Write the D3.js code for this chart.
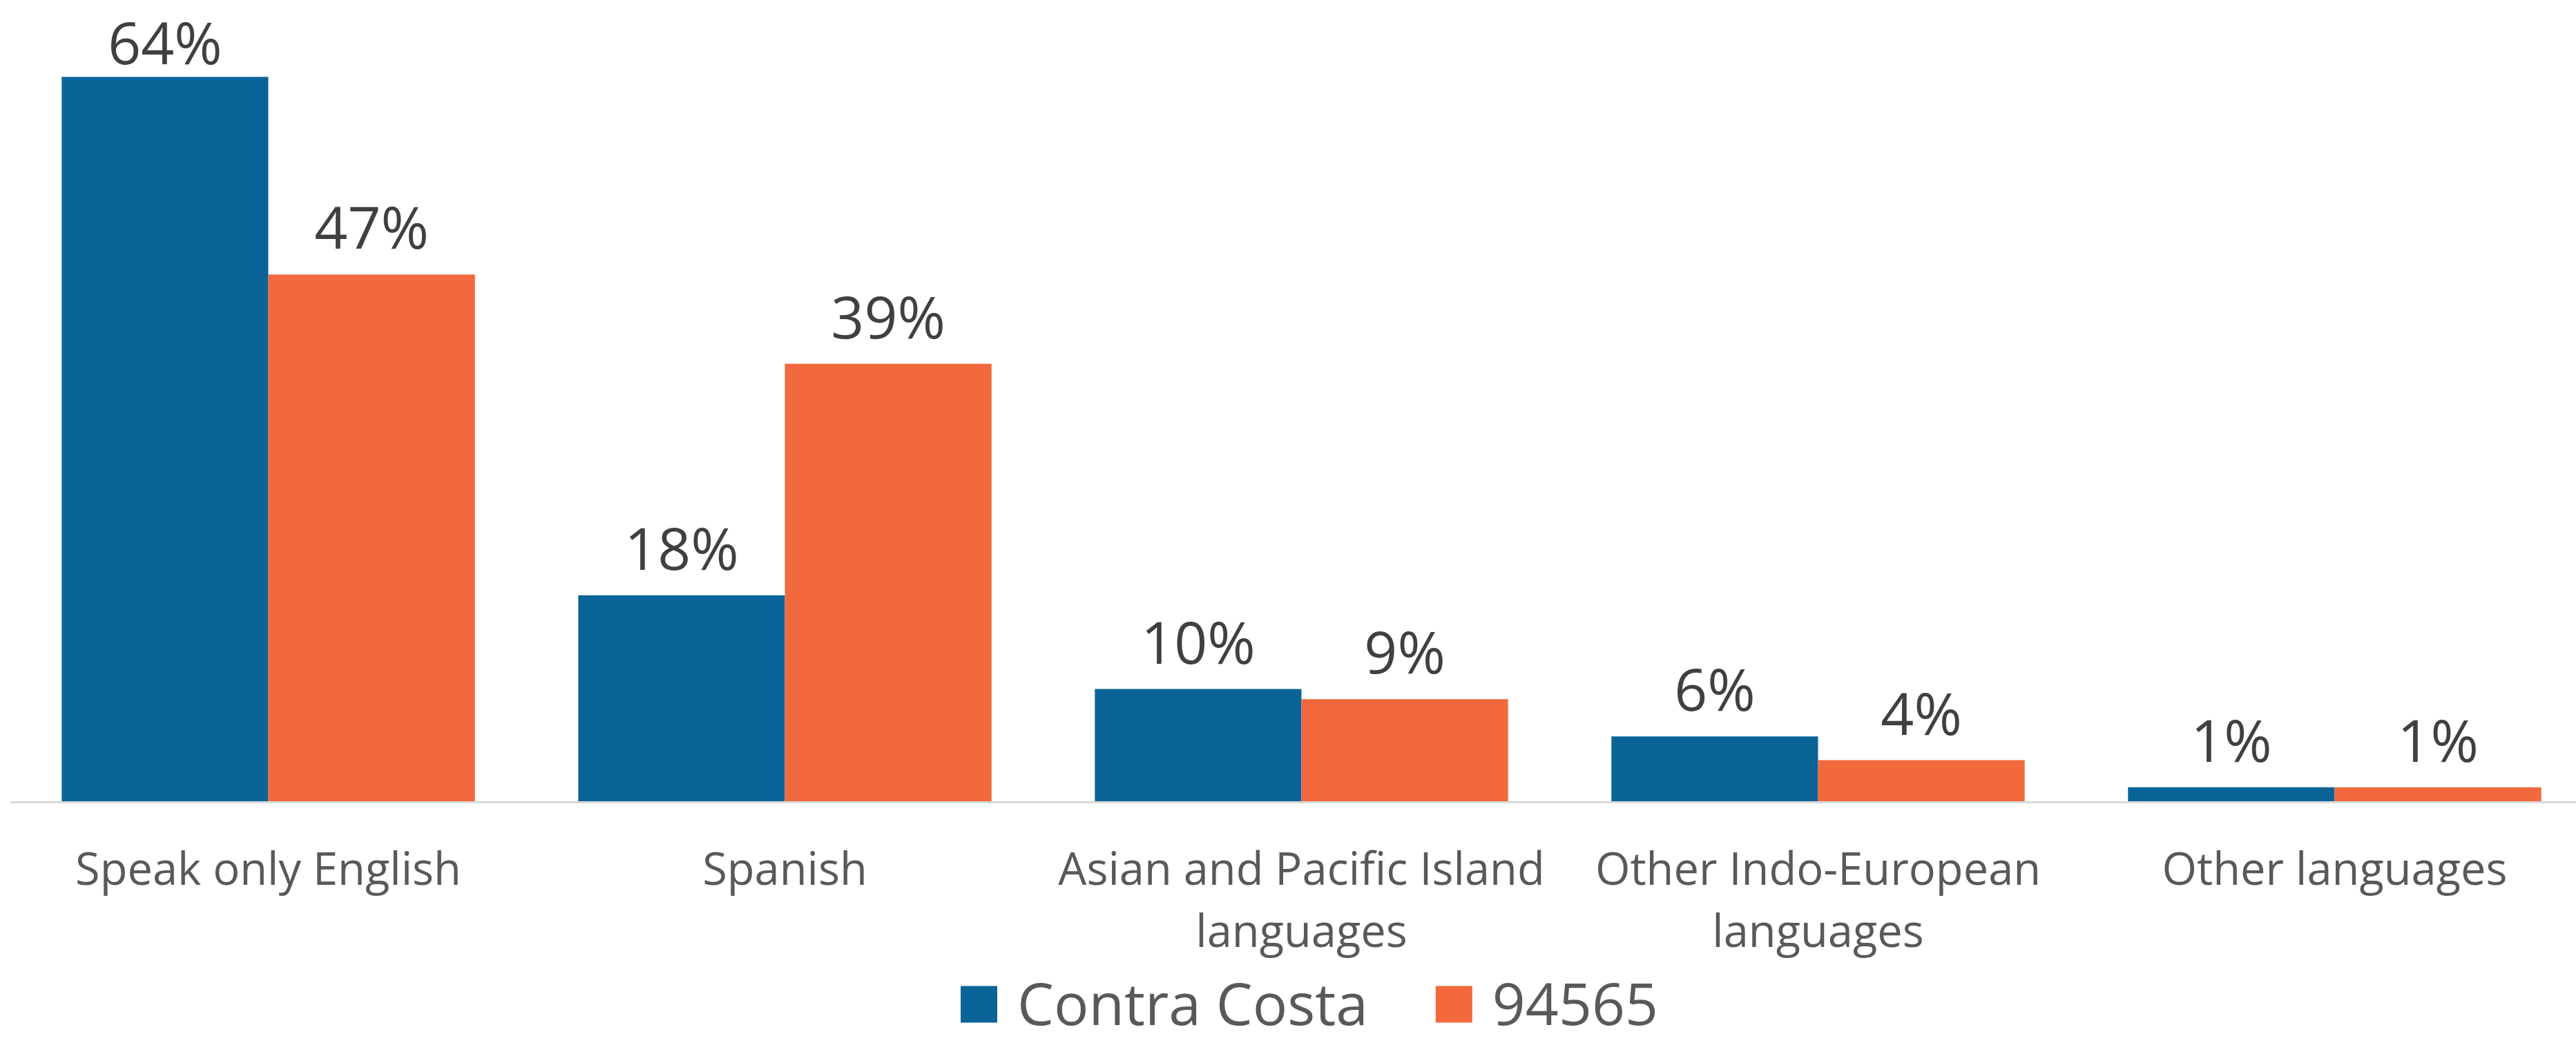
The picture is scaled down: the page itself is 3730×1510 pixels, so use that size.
<!DOCTYPE html>
<html>
<head>
<meta charset="utf-8">
<script src="https://cdn.jsdelivr.net/npm/d3@7"></script>
<style>
  html, body { margin: 0; padding: 0; background: #ffffff; }
  svg { display: block; }
</style>
</head>
<body>
<svg id="chart" width="3730" height="1510"></svg>
<script>
// ---- data ----
const categories = [
  "Speak only English",
  "Spanish",
  "Asian and Pacific Island languages",
  "Other Indo-European languages",
  "Other languages"
];
const seriesNames = ["Contra Costa", "94565"];
const contraCosta = [0.642, 0.183, 0.100, 0.058, 0.013];
const zip94565   = [0.467, 0.388, 0.091, 0.037, 0.013];
const seriesColors = ["#0b6498", "#f2693d"];

// ---- layout ----
const W = 3730, H = 1510;
const baseY = 1161;
const svg = d3.select("#chart");
const FONT = "'Open Sans', 'Noto Sans', sans-serif";

const x = d3.scaleBand()
  .domain(categories)
  .range([14.5, 3754.5])
  .paddingInner(0.2)
  .paddingOuter(0.1);

const xs = d3.scaleBand()
  .domain(seriesNames)
  .range([0, x.bandwidth()])
  .padding(0);

const y = d3.scaleLinear()
  .domain([0, 0.70])
  .range([baseY, baseY - 16.35 * 70]);

const fmt = d3.format(".0%");

const rows = categories.map((c, i) => ({
  cat: c,
  vals: [
    { name: seriesNames[0], v: contraCosta[i], color: seriesColors[0] },
    { name: seriesNames[1], v: zip94565[i], color: seriesColors[1] }
  ]
}));

// bars
const groups = svg.append("g").selectAll("g")
  .data(rows).join("g")
  .attr("transform", d => `translate(${x(d.cat)},0)`);

groups.selectAll("rect")
  .data(d => d.vals).join("rect")
  .attr("x", d => xs(d.name))
  .attr("width", xs.bandwidth())
  .attr("y", d => y(d.v))
  .attr("height", d => baseY - y(d.v))
  .attr("fill", d => d.color);

// x axis (baseline + category labels)
const axis = svg.append("g")
  .attr("transform", `translate(0,${baseY})`)
  .call(d3.axisBottom(x).tickSize(0).tickPadding(0));
axis.select(".domain").attr("stroke", "#d9d9d9").attr("stroke-width", 3);
axis.selectAll(".tick text").remove();

const lineH = 90;
axis.selectAll(".tick").each(function(d) {
  const t = d3.select(this).append("text")
    .attr("text-anchor", "middle")
    .attr("font-family", FONT)
    .attr("font-size", 65)
    .attr("fill", "#595959");
  // greedy word wrap to the category width
  const words = d.split(" ");
  const maxW = 790;
  let lines = [], cur = [];
  const probe = t.append("tspan");
  words.forEach(w => {
    const test = cur.concat([w]).join(" ");
    probe.text(test);
    if (probe.node().getComputedTextLength() > maxW && cur.length) {
      lines.push(cur.join(" "));
      cur = [w];
    } else cur.push(w);
  });
  lines.push(cur.join(" "));
  probe.remove();
  lines.forEach((ln, i) => {
    t.append("tspan").attr("x", 0).attr("y", 120 + i * lineH).text(ln);
  });
});

// data labels (kept inside the chart area at the top)
groups.selectAll("text.lbl")
  .data(d => d.vals).join("text")
  .attr("class", "lbl")
  .attr("x", d => xs(d.name) + xs.bandwidth() / 2)
  .attr("y", d => Math.max(y(d.v) - 37, 93))
  .attr("text-anchor", "middle")
  .attr("font-family", FONT)
  .attr("font-size", 84)
  .attr("fill", "#404040")
  .text(d => fmt(d.v));

// legend
const legend = svg.append("g");
const sw = 53, gapText = 29, gapItem = 98;
let cx = 0;
seriesNames.forEach((n, i) => {
  const g = legend.append("g");
  g.append("rect").attr("x", 0).attr("y", -sw / 2).attr("width", sw).attr("height", sw)
    .attr("fill", seriesColors[i]);
  const t = g.append("text").attr("x", sw + gapText).attr("y", 30)
    .attr("font-family", FONT).attr("font-size", 84).attr("fill", "#595959").text(n);
  const w = sw + gapText + t.node().getComputedTextLength();
  g.attr("transform", `translate(${cx},0)`);
  cx += w + gapItem;
});
const totalW = cx - gapItem;
legend.attr("transform", `translate(${1896 - totalW / 2},1454)`);
</script>
</body>
</html>
